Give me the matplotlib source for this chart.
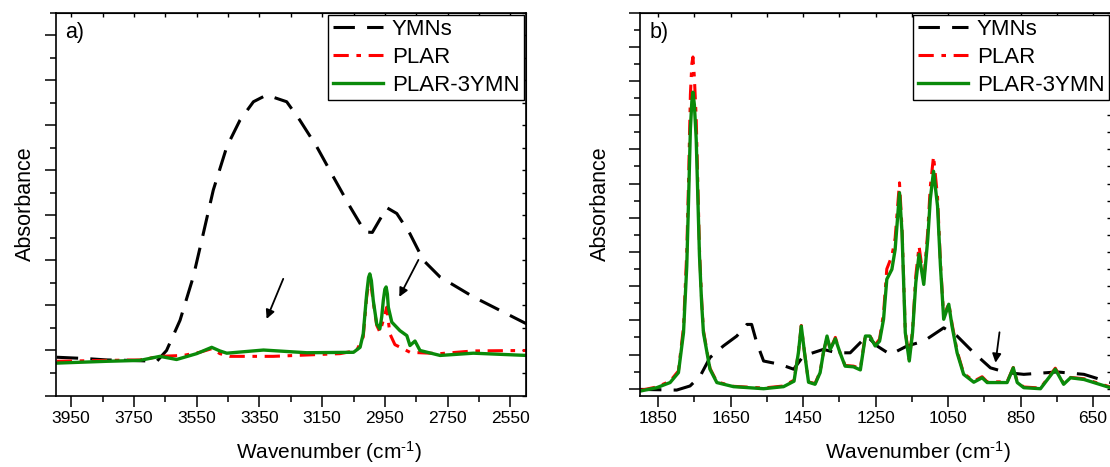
import matplotlib.pyplot as plt
from matplotlib.ticker import FixedLocator, MultipleLocator

plt.rcParams['font.family'] = ['Liberation Sans', 'DejaVu Sans']
plt.rcParams['mathtext.fontset'] = 'custom'
plt.rcParams['mathtext.rm'] = 'Liberation Sans'
plt.rcParams['mathtext.it'] = 'Liberation Sans:italic'

# a) 4000-2500 cm-1
a_ymn_x = [3996, 3900, 3837, 3760, 3677, 3646, 3603, 3561, 3529, 3497, 3454, 3412, 3369, 3327,
           3263, 3221, 3167, 3114, 3061, 3013, 2990, 2944, 2912, 2870, 2827, 2774, 2668, 2583, 2498]
a_ymn_y = [0.85, 0.82, 0.79, 0.78, 0.76, 1.0, 1.67, 2.63, 3.59, 4.56, 5.52, 6.11, 6.52, 6.67,
           6.52, 6.11, 5.52, 4.85, 4.19, 3.63, 3.62, 4.17, 4.04, 3.59, 3.0, 2.63, 2.19, 1.89, 1.59]

a_plar_x = [3996, 3837, 3731, 3667, 3593, 3540, 3502, 3476, 3444, 3306, 3093, 3040, 3019, 3008,
            2998, 2987, 2976, 2966, 2955, 2944, 2934, 2918, 2870, 2774, 2668, 2498]
a_plar_y = [0.76, 0.78, 0.79, 0.87, 0.89, 0.96, 1.04, 0.93, 0.87, 0.87, 0.93, 1.0, 1.30, 2.19,
            2.67, 2.07, 1.56, 1.41, 1.67, 1.96, 1.37, 1.13, 0.96, 0.93, 0.99, 1.0]

a_mix_x = [3996, 3837, 3731, 3667, 3614, 3550, 3502, 3476, 3454, 3337, 3199, 3050, 3029, 3019,
           3008, 3002, 2998, 2993, 2987, 2976, 2966, 2960, 2955, 2950, 2946, 2942, 2939, 2928,
           2902, 2880, 2870, 2854, 2838, 2774, 2668, 2498]
a_mix_y = [0.72, 0.76, 0.78, 0.87, 0.80, 0.93, 1.07, 0.99, 0.94, 1.01, 0.95, 0.96, 1.07, 1.37,
           2.26, 2.62, 2.70, 2.55, 2.11, 1.59, 1.48, 1.75, 2.11, 2.36, 2.41, 2.25, 1.96, 1.63,
           1.44, 1.33, 1.11, 1.21, 1.0, 0.89, 0.94, 0.89]

# b) 1900-600 cm-1
b_ymn_x = [1900, 1799, 1762, 1734, 1707, 1670, 1633, 1605, 1592, 1578, 1559, 1513, 1476, 1449,
           1394, 1357, 1320, 1274, 1246, 1209, 1163, 1117, 1062, 1025, 979, 933, 887, 841, 749,
           675, 602]
b_ymn_y = [-0.02, -0.04, 0.08, 0.37, 0.91, 1.25, 1.54, 1.88, 1.88, 1.35, 0.81, 0.71, 0.57, 0.96,
           1.15, 1.05, 1.05, 1.54, 1.25, 1.0, 1.25, 1.39, 1.78, 1.54, 1.05, 0.61, 0.47, 0.42, 0.49,
           0.42, 0.18]

b_mix_x = [1900, 1854, 1817, 1794, 1780, 1771, 1766, 1761, 1757, 1754, 1750, 1745, 1741, 1736,
           1730, 1725, 1707, 1688, 1642, 1559, 1504, 1475, 1463, 1455, 1446, 1435, 1417, 1403,
           1394, 1384, 1375, 1361, 1348, 1334, 1311, 1292, 1278, 1266, 1251, 1239, 1228, 1219,
           1205, 1196, 1184, 1177, 1168, 1157, 1148, 1139, 1130, 1117, 1106, 1099, 1090, 1079,
           1071, 1062, 1048, 1039, 1025, 1007, 979, 956, 942, 887, 870, 859, 841, 795, 754,
           731, 712, 675, 602]
b_mix_y = [-0.07, 0.03, 0.18, 0.47, 1.64, 3.59, 5.54, 7.6, 8.4, 8.67, 8.3, 7.3, 5.8, 3.9,
           2.5, 1.64, 0.57, 0.18, 0.06, 0.0, 0.06, 0.22, 1.05, 1.83, 1.05, 0.19, 0.13, 0.47,
           1.05, 1.54, 1.15, 1.46, 1.05, 0.66, 0.64, 0.55, 1.54, 1.54, 1.25, 1.39, 2.03, 3.2,
           3.49, 4.07, 5.73, 4.56, 1.64, 0.81, 1.64, 3.1, 3.93, 3.05, 4.37, 5.54, 6.36, 5.34,
           3.59, 2.03, 2.47, 1.83, 1.05, 0.42, 0.19, 0.32, 0.18, 0.18, 0.61, 0.18, 0.03, 0.0, 0.57,
           0.13, 0.32, 0.27, 0.03]
b_plar_y = [-0.05, 0.05, 0.22, 0.52, 1.8, 4.0, 6.1, 8.6, 9.5, 9.7, 9.1, 7.9, 6.2, 4.1,
            2.6, 1.7, 0.6, 0.2, 0.07, 0.02, 0.08, 0.25, 1.05, 1.85, 1.05, 0.2, 0.15, 0.5,
            1.05, 1.5, 1.15, 1.5, 1.05, 0.68, 0.66, 0.6, 1.58, 1.55, 1.28, 1.45, 2.2, 3.5,
            3.88, 4.4, 6.02, 4.7, 1.7, 0.85, 1.7, 3.3, 4.17, 3.15, 4.6, 5.9, 6.8, 5.6,
            3.7, 2.1, 2.5, 1.9, 1.1, 0.45, 0.22, 0.35, 0.2, 0.2, 0.62, 0.2, 0.05, 0.02, 0.6,
            0.15, 0.33, 0.29, 0.05]

a_ticks = [3950, 3750, 3550, 3350, 3150, 2950, 2750, 2550]
b_ticks = [1850, 1650, 1450, 1250, 1050, 850, 650]
names = ['YMNs', 'PLAR', 'PLAR-3YMN']

# arrows (tail, tip)
a_arrows = [((3274, 2.59), (3327, 1.70)), ((2843, 3.01), (2904, 2.19))]
b_arrows = [((908, 1.65), (919, 0.76))]

fig = plt.figure(figsize=(11.1, 4.67), dpi=100)
ax1 = fig.add_axes([0.05, 0.153, 0.4239, 0.8202])
ax2 = fig.add_axes([0.5766, 0.153, 0.4244, 0.8202])


def draw(ax, xs, ys, xlim, ylim, ticks, tag, arrows, lab_x):
    ax.plot(xs[0], ys[0], color='black', lw=2.2, dashes=(7, 4), label=names[0])
    ax.plot(xs[1], ys[1], color='#ff0000', lw=2.2, dashes=(5, 2.5, 1.5, 2.5), label=names[1])
    ax.plot(xs[2], ys[2], color='#0a8a0a', lw=2.4, label=names[2])
    ax.set_xlim(*xlim)
    ax.set_ylim(*ylim)
    ax.xaxis.set_major_locator(FixedLocator(ticks))
    ax.xaxis.set_minor_locator(MultipleLocator(100, offset=50))
    ax.yaxis.set_major_locator(MultipleLocator(1))
    ax.yaxis.set_minor_locator(MultipleLocator(0.5))
    ax.set_yticklabels([])
    ax.tick_params(which='major', direction='out', length=8, width=1.1)
    ax.tick_params(which='minor', direction='out', length=4, width=1.1)
    ax.tick_params(axis='x', pad=3)
    for lbl in ax.get_xticklabels():
        lbl.set_family(['Liberation Sans Narrow', 'Liberation Sans'])
        lbl.set_fontsize(12.5)
    for s in ax.spines.values():
        s.set_linewidth(1.2)
    top = ax.secondary_xaxis('top')
    top.xaxis.set_major_locator(FixedLocator(ticks))
    top.xaxis.set_minor_locator(MultipleLocator(100, offset=50))
    top.tick_params(which='both', direction='in', length=3, width=1, labeltop=False)
    right = ax.secondary_yaxis('right')
    right.yaxis.set_major_locator(MultipleLocator(1))
    right.yaxis.set_minor_locator(MultipleLocator(0.5))
    right.tick_params(which='both', direction='in', length=3, width=1, labelright=False)
    ax.set_xlabel('Wavenumber (cm$^{\u2010 1}$)', fontsize=15)
    ax.xaxis.set_label_coords(lab_x, -0.115)
    ax.set_ylabel('Absorbance', fontsize=15.5)
    ax.text(0.02, 0.975, tag, transform=ax.transAxes, fontsize=15.5, va='top', ha='left')
    for tail, tip in arrows:
        ax.annotate('', xy=tip, xytext=tail,
                    arrowprops=dict(arrowstyle='-|>', color='black', lw=1.3,
                                    mutation_scale=13, shrinkA=0, shrinkB=0))
    leg = ax.legend(loc='upper right', fontsize=16, frameon=True, fancybox=False,
                    edgecolor='black', framealpha=1, borderaxespad=0.1, borderpad=0.2,
                    labelspacing=0.3, handlelength=2.25, handletextpad=0.4)
    leg.get_frame().set_linewidth(1.0)


draw(ax1, [a_ymn_x, a_plar_x, a_mix_x], [a_ymn_y, a_plar_y, a_mix_y], (4000, 2500), (0, 8.5),
     a_ticks, 'a)', a_arrows, 0.581)
draw(ax2, [b_ymn_x, b_mix_x, b_mix_x], [b_ymn_y, b_plar_y, b_mix_y], (1900, 600), (-0.2, 11.0),
     b_ticks, 'b)', b_arrows, 0.590)
ax1.yaxis.set_label_coords(-0.041, 0.5)
ax2.yaxis.set_label_coords(-0.062, 0.5)

fig.savefig('out.png', dpi=100)
